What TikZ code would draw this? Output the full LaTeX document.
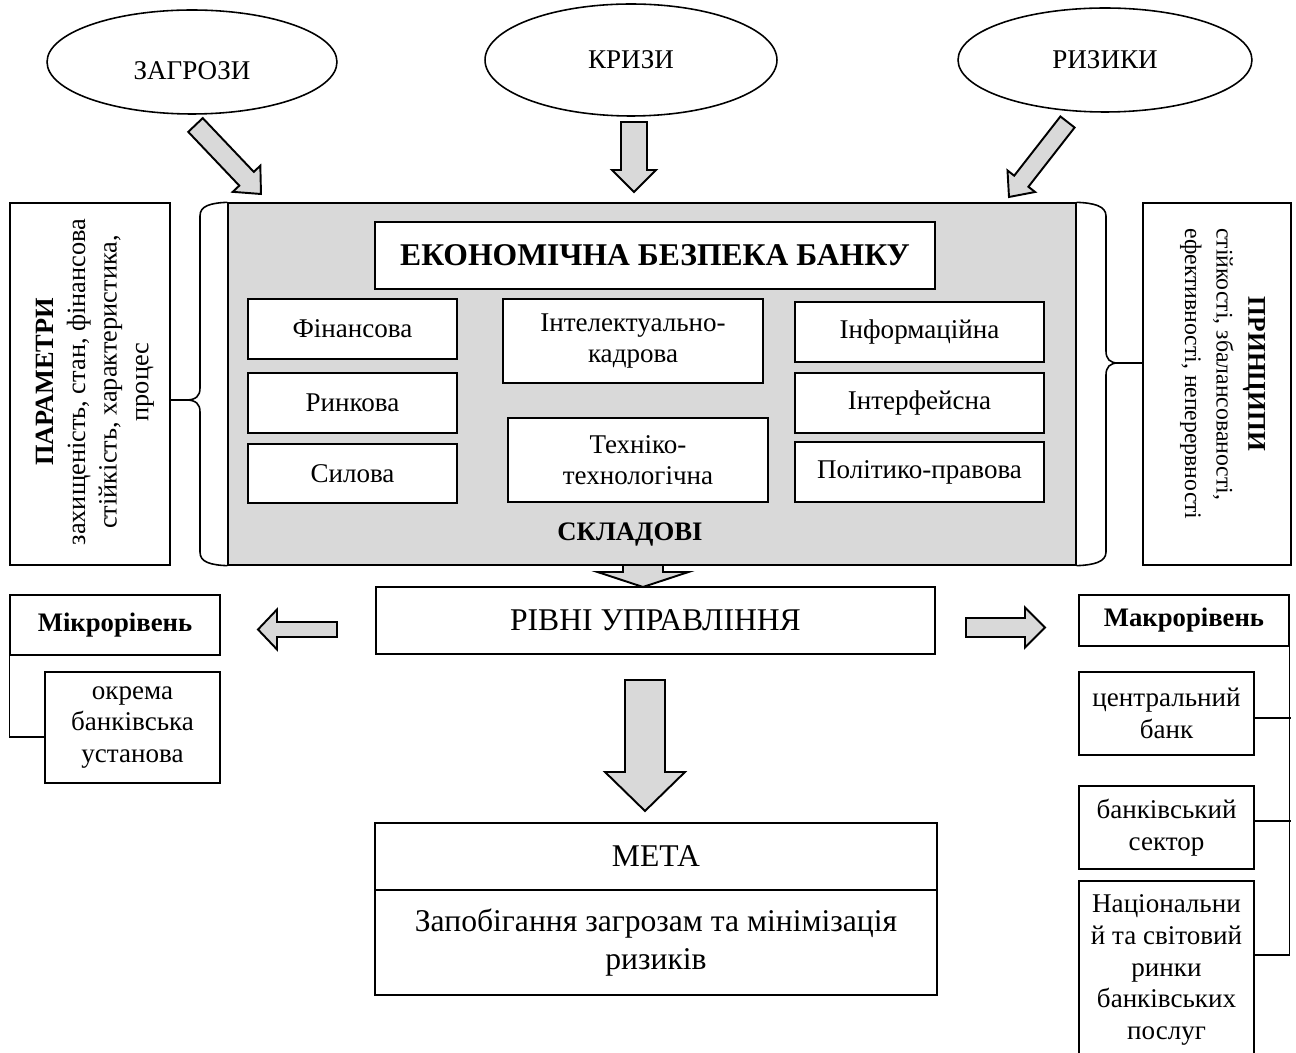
\documentclass[tikz,border=0pt]{standalone}
\usepackage{fontspec}
\setmainfont{Liberation Serif}
\usetikzlibrary{shapes.geometric,calc,scopes}
\definecolor{panelgray}{RGB}{217,217,217}

% block arrow: tail, tip, half body, half head, head length (in px)
\newcommand{\blockarrow}[5]{%
  \path ($(#2)!#5*0.02cm!(#1)$) coordinate (ba);
  \draw[barrow] ($(#1)!#3*0.02cm!90:(#2)$) -- ($(ba)!#3*0.02cm!90:(#2)$)
    -- ($(ba)!#4*0.02cm!90:(#2)$) -- (#2) -- ($(ba)!#4*0.02cm!-90:(#2)$)
    -- ($(ba)!#3*0.02cm!-90:(#2)$) -- ($(#1)!#3*0.02cm!-90:(#2)$) -- cycle;
}

\begin{document}
\begin{tikzpicture}[
    x=0.02cm, y=-0.02cm,
    every node/.style={inner sep=0pt},
    txt/.style={font=\fontsize{15.4}{18}\selectfont},
    boldtxt/.style={font=\fontsize{15.2}{18}\selectfont\bfseries},
    sidetxt/.style={font=\fontsize{15}{18}\selectfont},
    box/.style={rectangle,draw,fill=white,line width=0.75pt,align=center,txt},
    bigbox/.style={box,font=\fontsize{18}{22}\selectfont},
    panel/.style={rectangle,draw,fill=panelgray,line width=0.8pt},
    cloud/.style={ellipse,draw,line width=0.9pt,txt},
    barrow/.style={draw,fill=panelgray,line width=1.1pt},
    curly/.style={line width=0.9pt},
    link/.style={line width=0.8pt},
]

    \useasboundingbox (0,0) rectangle (1296,1053);

    %%%
    % Sources at the top
    \node[cloud,minimum width=5.8cm,minimum height=2.08cm,
          label={[txt,yshift=-5pt]center:ЗАГРОЗИ}] (zag) at (192,62) {};
    \node[cloud,minimum width=5.84cm,minimum height=2.24cm] (kryz) at (631,60) {КРИЗИ};
    \node[cloud,minimum width=5.88cm,minimum height=2.08cm] (ryz) at (1105,60) {РИЗИКИ};

    %%%
    % Core block and its parts
    \node[panel,minimum width=16.96cm,minimum height=7.24cm] (core) at (652,384) {};
    \node[box,font=\fontsize{18}{21}\selectfont\bfseries,
          minimum width=11.2cm,minimum height=1.34cm] (title) at (655,255.5) {ЕКОНОМІЧНА БЕЗПЕКА БАНКУ};
    \node[box,minimum width=4.18cm,minimum height=1.2cm] (fin) at (352.5,329) {Фінансова};
    \node[box,minimum width=4.18cm,minimum height=1.2cm] (rynk) at (352.5,403) {Ринкова};
    \node[box,minimum width=4.18cm,minimum height=1.18cm] (syl) at (352.5,473.5) {Силова};
    \node[box,minimum width=5.2cm,minimum height=1.68cm] (intel) at (633,341) {Інтелектуально-\\кадрова};
    \node[box,minimum width=5.2cm,minimum height=1.68cm] (tekh) at (638,460) {Техніко-\\технологічна};
    \node[box,minimum width=4.98cm,minimum height=1.2cm] (inform) at (919.5,332) {Інформаційна};
    \node[box,minimum width=4.98cm,minimum height=1.2cm] (interf) at (919.5,403) {Інтерфейсна};
    \node[box,minimum width=4.98cm,minimum height=1.2cm] (polit) at (919.5,472) {Політико-правова};
    \node[boldtxt] (sklad) at (630,535) {СКЛАДОВІ};

    %%%
    % Side blocks
    \node[box,minimum width=3.2cm,minimum height=7.24cm] (param) at (90,384) {};
    \node[rotate=90,align=center,sidetxt] (paramtxt) at (95,382)
        {\textbf{ПАРАМЕТРИ}\\захищеність, стан, фінансова\\стійкість, характеристика,\\процес};
    \node[box,minimum width=2.96cm,minimum height=7.24cm] (princ) at (1217,384) {};
    \node[rotate=-90,font=\fontsize{13.5}{18}\selectfont] (princtxt) at (1223,374)
        {\begin{tabular}{@{}l@{}}\multicolumn{1}{@{}c@{}}{\fontsize{14.5}{18}\selectfont\textbf{ПРИНЦИПИ}}\\
         стійкості, збалансованості,\\ефективності, неперервності\end{tabular}};

    \coordinate (lcusp) at (186,400);
    \coordinate (rcusp) at (1118,363);
    {[curly]
        \draw (core.north west) .. controls (210,203) and (200,206) .. (200,216)
            -- (200,388) .. controls (200,396) and (196,400) .. (lcusp)
            .. controls (196,400) and (200,404) .. (200,412)
            -- (200,552) .. controls (200,562) and (210,565) .. (core.south west);
        \draw (core.north east) .. controls (1094,203) and (1106,206) .. (1106,216)
            -- (1106,351) .. controls (1106,359) and (1110,363) .. (rcusp)
            .. controls (1110,363) and (1106,367) .. (1106,375)
            -- (1106,552) .. controls (1106,562) and (1094,565) .. (core.south east);
        \draw (lcusp) -- (param.east |- lcusp);
        \draw (rcusp) -- (princ.west |- rcusp);
    }

    %%%
    % Levels and goal
    \node[bigbox,minimum width=11.18cm,minimum height=1.34cm] (rivni) at (655.5,620.5) {РІВНІ УПРАВЛІННЯ};
    \node[bigbox,minimum width=11.24cm,minimum height=1.34cm] (metaT) at (656,856.5) {МЕТА};
    \node[bigbox,minimum width=11.24cm,minimum height=2.1cm] (metaB) at (656,942.5)
        {Запобігання загрозам та мінімізація\\ризиків};

    \node[box,boldtxt,minimum width=4.2cm,minimum height=1.2cm] (mikro) at (115,625) {Мікрорівень};
    \node[box,minimum width=3.5cm,minimum height=2.22cm] (okrema) at (132.5,727.5) {окрема\\банківська\\установа};

    \node[box,boldtxt,minimum width=4.2cm,minimum height=1.02cm] (makro) at (1184,620.5) {Макрорівень};
    \node[box,minimum width=3.5cm,minimum height=1.66cm] (central) at (1166.5,713.5) {центральний\\банк};
    \node[box,minimum width=3.5cm,minimum height=1.66cm] (sector) at (1166.5,827.5) {банківський\\сектор};
    \node[box,minimum width=3.5cm,minimum height=3.56cm] (natl) at (1166.5,970)
        {Національни\\й та світовий\\ринки\\банківських\\послуг};

    {[link]
        \draw (mikro.south west) |- ($(okrema.west)+(0,9.5)$);
        \draw (makro.south east) |- ($(natl.east)+(0,-15)$);
        \draw ($(central.east)+(0,4.5)$) -- +(36,0);
        \draw ($(sector.east)+(0,-6.5)$) -- +(36,0);
    }

    %%%
    % Block arrows
    \coordinate (zagT) at (195.5,125);  \coordinate (zagH) at (261,194);
    \coordinate (kryzT) at (634,122);   \coordinate (kryzH) at (634,192);
    \coordinate (ryzT) at (1067.5,122); \coordinate (ryzH) at (1009,197);
    \coordinate (coreOut) at (643,565); \coordinate (rivIn) at (643,587);
    \coordinate (rivOut) at (645,680);  \coordinate (metaIn) at (645,811);
    \coordinate (mikT) at (337,629.5);  \coordinate (mikH) at (258,629.5);
    \coordinate (makT) at (966,627.5);  \coordinate (makH) at (1045,627.5);
    \blockarrow{zagT}{zagH}{10}{19}{21}
    \blockarrow{kryzT}{kryzH}{13}{22}{22}
    \blockarrow{ryzT}{ryzH}{9}{17.5}{20}
    \blockarrow{coreOut}{rivIn}{20}{45.5}{15}
    \blockarrow{rivOut}{metaIn}{20}{40}{39}
    \blockarrow{mikT}{mikH}{7.5}{20}{19}
    \blockarrow{makT}{makH}{9.5}{20}{20}

\end{tikzpicture}
\end{document}
